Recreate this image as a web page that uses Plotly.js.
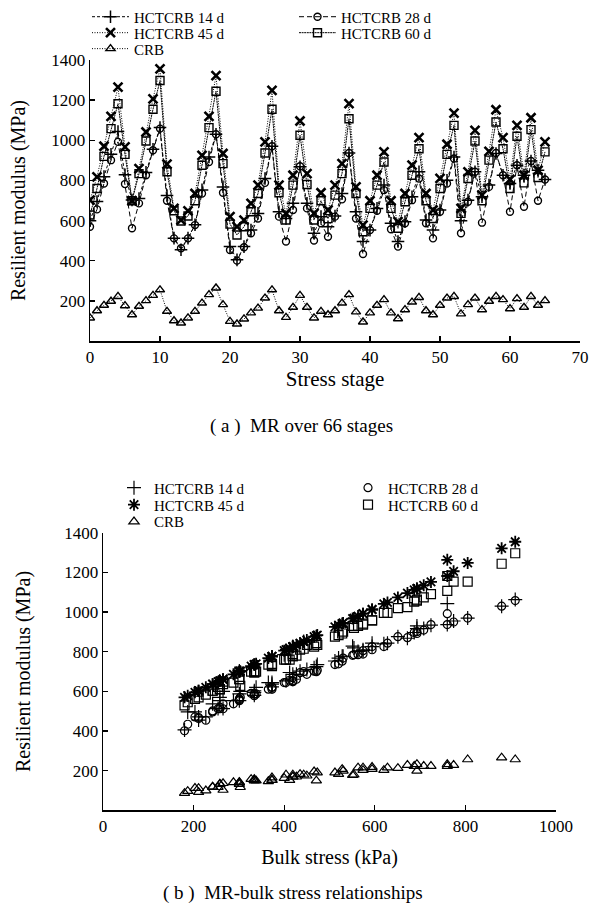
<!DOCTYPE html>
<html>
<head>
<meta charset="utf-8">
<script src="https://cdn.plot.ly/plotly-3.0.1.min.js"></script>
<style>html,body{margin:0;padding:0;background:#fff;}#chart{width:592px;height:909px;}</style>
</head>
<body>
<div id="chart"></div>
<script>
// Stage index (x of top chart)
const stages = Array.from({length: 66}, (_, i) => i);

// Resilient modulus (MPa) per stage
const mr14 = [600,695,819,930,1043,828,703,710,840,955,1063,725,513,455,513,580,753,917,1030,768,471,405,471,553,636,810,970,644,611,686,868,686,537,620,570,623,735,937,644,496,553,661,777,587,496,595,719,843,603,553,653,801,917,600,702,843,719,777,934,826,785,876,826,897,851,805];
const mr28 = [570,656,785,901,992,782,562,686,826,950,1058,699,512,463,512,578,735,892,1030,739,454,401,468,537,611,788,970,620,496,653,871,661,501,587,520,620,706,937,611,434,553,649,752,557,471,587,702,810,587,512,644,785,909,537,694,843,590,768,937,826,644,876,669,897,699,805];
const mr45 = [702,818,970,1119,1264,967,699,859,1041,1206,1355,881,661,603,649,735,925,1119,1322,934,620,570,603,686,777,992,1248,777,636,826,1096,834,636,739,653,777,884,1182,768,578,699,826,942,699,595,735,876,1013,735,653,810,980,1135,661,843,1049,727,945,1152,1013,805,1074,826,1112,851,992];
const mr60 = [628,760,920,1058,1182,930,699,834,996,1154,1297,843,649,598,623,699,876,1063,1244,884,583,529,570,644,735,937,1154,739,603,777,1025,780,603,699,610,727,834,1107,735,545,661,777,892,661,562,694,826,958,699,611,760,930,1074,636,810,996,699,901,1091,958,760,1020,788,1053,815,942];
const mrCRB = [116,152,179,199,223,177,132,174,202,228,256,149,102,91,116,149,190,232,265,182,99,86,111,141,165,215,256,152,119,169,228,169,116,149,132,152,190,232,146,96,141,179,207,141,112,157,195,218,152,132,179,215,223,136,182,215,157,199,223,207,162,212,169,223,179,202];

// Bulk stress (kPa) per stage (x of bottom chart)
const bulk = [303,412,554,693,760,551,301,450,620,774,910,471,265,211,254,334,512,693,880,520,227,180,211,288,373,574,805,373,242,419,672,427,242,338,258,373,473,760,365,187,301,419,528,301,203,334,466,594,334,258,404,563,708,265,435,628,327,530,724,594,400,651,419,687,443,574];

const names = ['HCTCRB 14 d','HCTCRB 28 d','HCTCRB 45 d','HCTCRB 60 d','CRB'];
const xTicks1 = [0,10,20,30,40,50,60,70];
const yTicks = [200,400,600,800,1000,1200,1400];
const xTicks2 = [0,200,400,600,800,1000];

const FONT = 'Liberation Serif, Times New Roman, serif';
const series = [mr14, mr28, mr45, mr60, mrCRB];
const symbolsTop = ['cross-thin-open','circle-open','x-thin-open','square-open','triangle-up-open'];
const symbolsBot = ['cross-thin-open','circle-open','asterisk-open','square-open','triangle-up-open'];
const dashes = ['3px,2px','5px,3px','1px,1.5px','2px,0.6px','1px,1.5px'];
const sizes = [9,7,9,8,8];
const mlw = [1.5,1.4,2.6,1.4,1.4];

const W = 592, H = 909;
// legend slots: [x px of legend box, y px of row centre]
const legTopPos = [[87, 15], [294, 15], [87, 31], [294, 31], [87, 47]];
const legBotPos = [[114, 487], [348, 487], [114, 504], [348, 504], [114, 521]];

const data = [];
series.forEach((s, k) => {
  data.push({
    x: stages, y: s, type: 'scatter', mode: 'lines+markers', name: names[k],
    xaxis: 'x', yaxis: 'y', legend: 'legend' + (k === 0 ? '' : (k + 1)),
    line: {color: '#000', width: 1, dash: dashes[k]},
    marker: {symbol: symbolsTop[k], size: sizes[k], color: '#000', line: {color: '#000', width: mlw[k]}}
  });
});
series.forEach((s, k) => {
  data.push({
    x: bulk, y: s, type: 'scatter', mode: 'markers', name: names[k],
    xaxis: 'x2', yaxis: 'y2', legend: 'legend' + (k + 6),
    marker: {symbol: symbolsBot[k], size: sizes[k] + 1, color: '#000', line: {color: '#000', width: k === 2 ? 1.8 : 1.2}}
  });
});

const axBase = {
  showgrid: false, zeroline: false, showline: true, linecolor: '#000', linewidth: 1.3,
  ticks: 'inside', ticklen: 5, tickwidth: 1.2, tickcolor: '#000',
  tickfont: {family: FONT, size: 17, color: '#000'}, automargin: false
};
const legBase = (xpx, ypx, iw) => ({
  x: xpx / W, y: 1 - ypx / H, xanchor: 'left', yanchor: 'middle',
  orientation: 'h', font: {family: FONT, size: 15, color: '#000'},
  bgcolor: 'rgba(0,0,0,0)', borderwidth: 0, itemwidth: iw
});

const layout = {
  width: W, height: H, margin: {l: 0, r: 0, t: 0, b: 0},
  paper_bgcolor: '#fff', plot_bgcolor: '#fff', showlegend: true,
  font: {family: FONT, color: '#000'},
  xaxis: Object.assign({}, axBase, {domain: [90 / W, 580 / W], range: [0, 70], tickvals: xTicks1, anchor: 'y',
    title: {text: 'Stress stage', font: {family: FONT, size: 21}, standoff: 4}}),
  yaxis: Object.assign({}, axBase, {domain: [(H - 340) / H, (H - 58) / H], range: [0, 1400], tickvals: yTicks, anchor: 'x',
    title: {text: 'Resilient modulus (MPa)', font: {family: FONT, size: 20}, standoff: 20}}),
  xaxis2: Object.assign({}, axBase, {domain: [103 / W, 556 / W], range: [0, 1000], tickvals: xTicks2, anchor: 'y2',
    title: {text: 'Bulk stress (kPa)', font: {family: FONT, size: 20}, standoff: 15}}),
  yaxis2: Object.assign({}, axBase, {domain: [(H - 810) / H, (H - 532) / H], range: [0, 1400], tickvals: yTicks, anchor: 'x2',
    title: {text: 'Resilient modulus (MPa)', font: {family: FONT, size: 20}, standoff: 28}}),
  annotations: [
    {text: '( a )  MR over 66 stages', xref: 'paper', yref: 'paper', x: 301 / W, y: 1 - 425 / H,
     showarrow: false, font: {family: FONT, size: 19, color: '#000'}, xanchor: 'center', yanchor: 'middle'},
    {text: '( b )  MR-bulk stress relationships', xref: 'paper', yref: 'paper', x: 293 / W, y: 1 - 893 / H,
     showarrow: false, font: {family: FONT, size: 19, color: '#000'}, xanchor: 'center', yanchor: 'middle'}
  ]
};
legTopPos.forEach((p, k) => { layout['legend' + (k === 0 ? '' : (k + 1))] = legBase(p[0], p[1], 37); });
legBotPos.forEach((p, k) => { layout['legend' + (k + 6)] = legBase(p[0], p[1], 30); });

Plotly.newPlot('chart', data, layout, {staticPlot: true, displayModeBar: false});
</script>
</body>
</html>
